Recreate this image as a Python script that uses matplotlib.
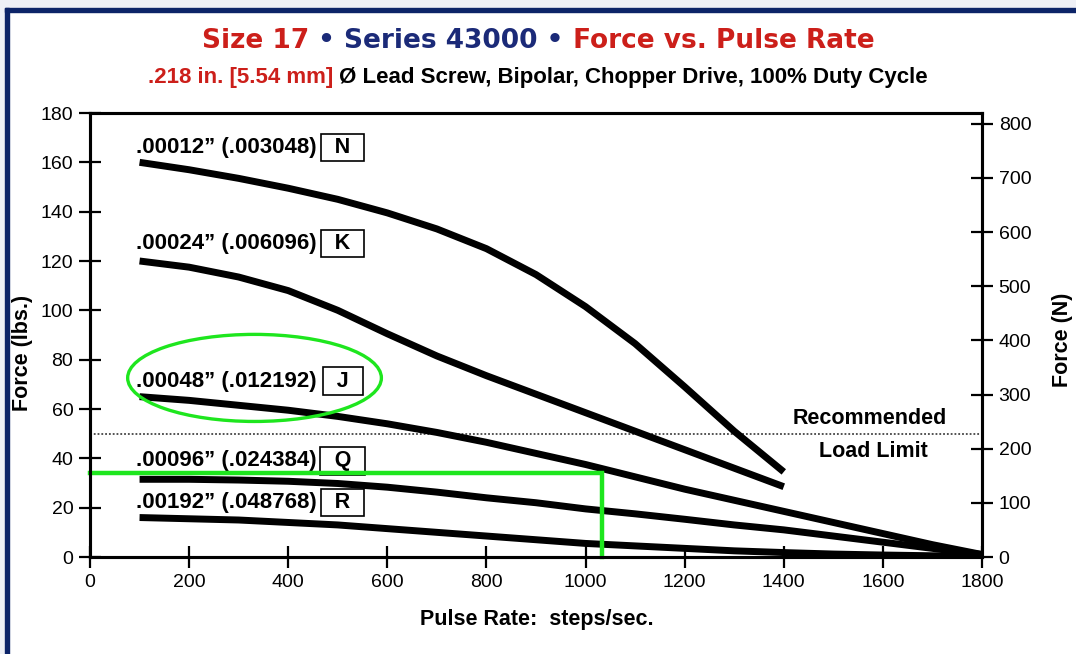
import matplotlib
matplotlib.use('Agg')
import matplotlib.pyplot as plt
from matplotlib.patches import Ellipse, Rectangle

# ---- data (force in lbs.) ----
x_short = [100, 200, 300, 400, 500, 600, 700, 800, 900, 1000, 1100, 1200, 1300, 1400]
x_long = [100, 200, 300, 400, 500, 600, 700, 800, 900, 1000, 1100, 1200, 1300, 1400,
          1500, 1600, 1700, 1800]

force_N = [160, 157, 153.5, 149.5, 145, 139.5, 133, 125, 114.5, 101.5, 86.5, 69, 51, 34.5]
force_K = [120, 117.5, 113.5, 108, 100, 90.5, 81.5, 73.5, 66, 58.5, 51, 43.5, 36, 28.5]
force_J = [65, 63.5, 61.5, 59.5, 57, 54, 50.5, 46.5, 42, 37.5, 32.5, 27.5, 23, 18.5, 14, 9.5, 5, 1]
force_Q = [31.5, 31.5, 31.2, 30.7, 29.8, 28.3, 26.3, 24, 22, 19.5, 17.5, 15.3, 13, 11, 8.5, 6, 3.5, 1]
force_R = [16, 15.5, 15, 14, 13, 11.5, 10, 8.5, 7, 5.5, 4.5, 3.5, 2.5, 1.8, 1.2, 0.8, 0.5, 0.3]

step_labels = ['.00012\u201d (.003048)', '.00024\u201d (.006096)', '.00048\u201d (.012192)',
               '.00096\u201d (.024384)', '.00192\u201d (.048768)']
step_codes = ['N', 'K', 'J', 'Q', 'R']
label_y = [166, 127, 71.3, 39, 22]

load_limit = 50
marker_force = 34      # green guide line
marker_rate = 1034

x_ticks = list(range(0, 1801, 200))
y_ticks = list(range(0, 181, 20))
n_ticks = list(range(0, 801, 100))

RED = '#cc1f1a'
NAVY = '#1b2a78'
GREEN = '#1ee61e'

plt.rcParams['font.family'] = ['Liberation Sans', 'DejaVu Sans']

fig = plt.figure(figsize=(10.76, 6.54), dpi=100)
W, H = 1076, 654
ax = fig.add_axes([90 / W, 1 - 557 / H, (982 - 90) / W, (557 - 113) / H])

# frame around the picture (screenshot border)
fig.add_artist(Rectangle((0, 0), 1, 1, transform=fig.transFigure, color='#eef0f6', zorder=-2))
fig.add_artist(Rectangle((5 / W, 0), 1, 1 - 8 / H, transform=fig.transFigure, color='white', zorder=-1))
fig.add_artist(Rectangle((5 / W, 0), 3.5 / W, 1 - 8 / H, transform=fig.transFigure, color='#0c2468'))
fig.add_artist(Rectangle((5 / W, 1 - 11.5 / H), 1, 3.5 / H, transform=fig.transFigure, color='#0c2468'))

# curves
series = [(x_short, force_N), (x_short, force_K), (x_long, force_J), (x_long, force_Q), (x_long, force_R)]
for xs, ys in series:
    ax.plot(xs, ys, color='black', lw=5, solid_capstyle='butt', solid_joinstyle='round', zorder=3)

# curve labels
for lab, code, yy in zip(step_labels, step_codes, label_y):
    ax.text(93, yy, lab, ha='left', va='center', fontsize=16, fontweight='bold')
    ax.text(510, yy, '\u2002' + code + '\u2002', ha='center', va='center', fontsize=15.5, fontweight='bold',
            bbox=dict(boxstyle='square,pad=0.15', fc='white', ec='black', lw=1.2))

# recommended load limit
ax.axhline(load_limit, color='#444444', lw=1.3, ls=(0, (1, 1.1)), zorder=1)
ax.text(1574, 56.3, 'Recommended', ha='center', va='center', fontsize=15.5, fontweight='bold')
ax.text(1580, 42.6, 'Load Limit', ha='center', va='center', fontsize=15.5, fontweight='bold')

# green highlights
ax.plot([0, marker_rate, marker_rate], [marker_force, marker_force, 0], color=GREEN, lw=3.2,
        solid_joinstyle='miter', zorder=5, clip_on=False)
ax.add_patch(Ellipse((332, 72.6), 512, 35.3, fill=False, ec=GREEN, lw=2.4, zorder=5))

ax.set_xlim(0, 1800)
ax.set_ylim(0, 180)
ax.set_xticks(x_ticks)
ax.set_yticks(y_ticks)
ax.tick_params(direction='inout', length=16, width=1.6, labelsize=14, pad=4)
for s in ax.spines.values():
    s.set_linewidth(2.2)

ax2 = ax.twinx()
ax2.set_ylim(0, 820)
ax2.set_yticks(n_ticks)
ax2.tick_params(direction='inout', length=16, width=1.6, labelsize=14, pad=4)
for s in ax2.spines.values():
    s.set_linewidth(2.2)

ax.set_xlabel('Pulse Rate:  steps/sec.', fontsize=15.5, fontweight='bold')
ax.xaxis.set_label_coords(0.501, -0.118)
ax.set_ylabel('Force (lbs.)', fontsize=15.5, fontweight='bold')
ax.yaxis.set_label_coords(-0.064, 0.46)
ax2.set_ylabel('Force (N)', fontsize=15.5, fontweight='bold')
ax2.yaxis.set_label_coords(1.078, 0.49)


# multi-coloured title lines
def colour_line(pieces, y, size, family):
    r = fig.canvas.get_renderer()
    texts = []
    for s, c in pieces:
        t = fig.text(0, y, s, color=c, fontsize=size, fontweight='bold', family=family,
                     ha='left', va='center')
        texts.append(t)
    widths = [t.get_window_extent(r).width for t in texts]
    x = W / 2 - sum(widths) / 2
    for t, w in zip(texts, widths):
        t.set_x(x / W)
        x += w


colour_line([('Size 17', RED), (' \u2022 Series 43000 \u2022', NAVY), (' Force vs. Pulse Rate', RED)],
            1 - 41 / H, 19, 'DejaVu Sans')
colour_line([('.218 in. [5.54 mm]', RED), (' \u00d8 Lead Screw, Bipolar, Chopper Drive, 100% Duty Cycle', 'black')],
            1 - 78 / H, 16, 'Liberation Sans')

fig.savefig('out.png', dpi=100)
